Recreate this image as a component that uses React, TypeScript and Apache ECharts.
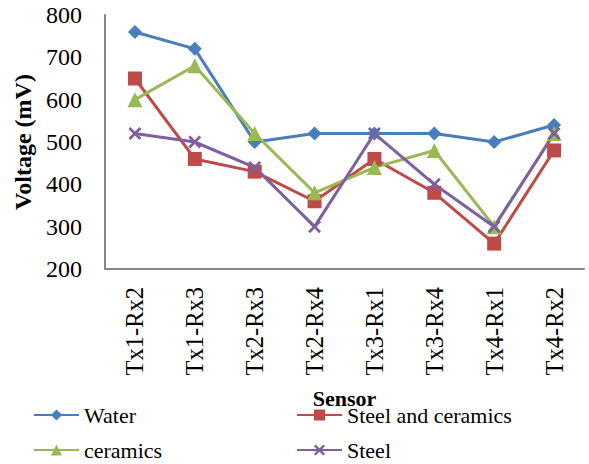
import React, { useEffect, useRef } from "react";
import * as echarts from "echarts";

const categories = ["Tx1-Rx2", "Tx1-Rx3", "Tx2-Rx3", "Tx2-Rx4", "Tx3-Rx1", "Tx3-Rx4", "Tx4-Rx1", "Tx4-Rx2"];
const water = [760, 720, 500, 520, 520, 520, 500, 540];
const steelCeramics = [650, 460, 430, 360, 460, 380, 260, 480];
const ceramics = [600, 680, 520, 380, 440, 480, 300, 520];
const steel = [520, 500, 440, 300, 520, 400, 300, 520];

const FONT = "'Liberation Serif', 'Times New Roman', serif";
const XPATH = "path://M0,1.5L1.5,0L5,3.5L8.5,0L10,1.5L6.5,5L10,8.5L8.5,10L5,6.5L1.5,10L0,8.5L3.5,5Z";

export default function App() {
  const ref = useRef<HTMLDivElement>(null);
  useEffect(() => {
    if (!ref.current) return;
    const chart = echarts.init(ref.current, null, { renderer: "svg" });
    const mk = (name: string, data: number[], color: string, symbol: string, size: number) => ({
      name,
      type: "line",
      data,
      symbol,
      symbolSize: size,
      showAllSymbol: true,
      lineStyle: { color, width: 3 },
      itemStyle: { color },
    });
    chart.setOption({
      animation: false,
      textStyle: { fontFamily: FONT },
      grid: { left: 105, right: 5, top: 15, bottom: 195, containLabel: false },
      xAxis: {
        type: "category",
        data: categories,
        boundaryGap: true,
        axisLine: { lineStyle: { color: "#868686", width: 2 } },
        axisTick: { show: false },
        axisLabel: { rotate: 90, fontSize: 24.5, color: "#000", fontFamily: FONT, margin: 18 },
        name: "Sensor",
        nameLocation: "middle",
        nameGap: 118,
        nameTextStyle: { fontSize: 22, fontWeight: "bold", color: "#000", fontFamily: FONT },
      },
      yAxis: {
        type: "value",
        min: 200,
        max: 800,
        interval: 100,
        splitLine: { show: false },
        axisLine: { show: true, lineStyle: { color: "#868686", width: 2 } },
        axisTick: { show: false },
        axisLabel: { fontSize: 24, color: "#000", fontFamily: FONT, margin: 23 },
        name: "Voltage (mV)",
        nameLocation: "middle",
        nameGap: 68,
        nameTextStyle: { fontSize: 24, fontWeight: "bold", color: "#000", fontFamily: FONT },
      },
      legend: [
        {
          data: ["Water", "ceramics"],
          orient: "vertical",
          left: 33,
          top: 404,
          padding: 0,
          itemWidth: 45,
          itemHeight: 14,
          itemGap: 13,
          textStyle: { fontSize: 22, color: "#000", fontFamily: FONT },
        },
        {
          data: ["Steel and ceramics", "Steel"],
          orient: "vertical",
          left: 296,
          top: 404,
          padding: 0,
          itemWidth: 45,
          itemHeight: 14,
          itemGap: 13,
          textStyle: { fontSize: 22, color: "#000", fontFamily: FONT },
        },
      ],
      series: [
        mk("Water", water, "#4A7EBB", "diamond", 14),
        mk("Steel and ceramics", steelCeramics, "#BE4B48", "rect", 14),
        mk("ceramics", ceramics, "#98B954", "triangle", 15),
        mk("Steel", steel, "#7D60A0", XPATH, 13),
      ],
    });
    return () => chart.dispose();
  }, []);
  return <div ref={ref} style={{ width: 589, height: 464, position: "absolute", left: 0, top: 0 }} />;
}
